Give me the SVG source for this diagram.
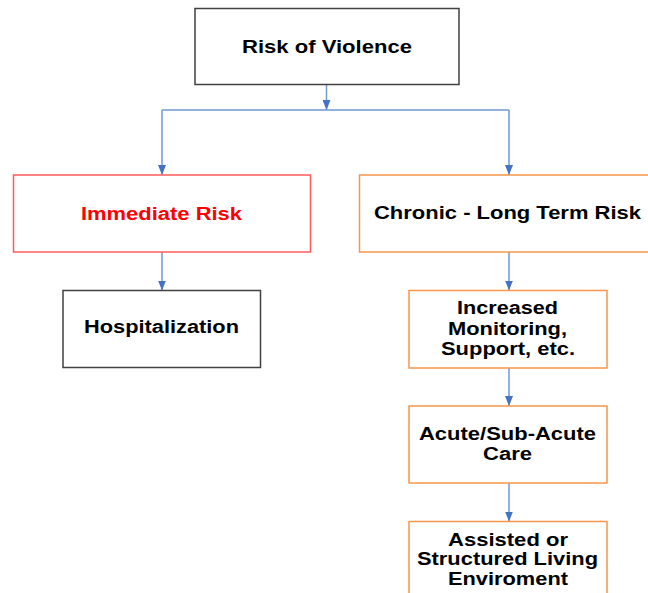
<svg xmlns="http://www.w3.org/2000/svg" width="648" height="593" viewBox="0 0 648 593">
<style>
.box{fill:#fff;stroke-width:1.5}
.k{stroke:#404040}
.r{stroke:#ff5b5b}
.o{stroke:#f7964a}
text{font-family:"Liberation Sans",Arial,sans-serif;font-weight:bold;font-size:18px;text-anchor:middle;fill:#000}
.red{fill:#ff0000}
.c{fill:none;stroke:#7199d6;stroke-width:1.5}
</style>
<defs>
<marker id="ah" markerWidth="10" markerHeight="8" refX="10" refY="4" orient="auto" markerUnits="userSpaceOnUse">
<path d="M0,0 L10,4 L0,8 Z" fill="#4472c4"/>
</marker>
</defs>
<rect width="648" height="593" fill="#fff"/>
<g id="connectors">
<path class="c" d="M326.5,84 V110" marker-end="url(#ah)"/>
<path class="c" d="M162,110 H509"/>
<path class="c" d="M162,110 V175" marker-end="url(#ah)"/>
<path class="c" d="M509,110 V175" marker-end="url(#ah)"/>
<path class="c" d="M162,252 V290.5" marker-end="url(#ah)"/>
<path class="c" d="M509,252 V290.5" marker-end="url(#ah)"/>
<path class="c" d="M509,368 V406" marker-end="url(#ah)"/>
<path class="c" d="M509,483 V521.5" marker-end="url(#ah)"/>
</g>
<g id="risk-of-violence">
<rect class="box k" x="195" y="8.5" width="264" height="76"/>
<text x="327" y="52.5" textLength="170" lengthAdjust="spacingAndGlyphs">Risk of Violence</text>
</g>
<g id="immediate-risk">
<rect class="box r" x="13.5" y="175" width="297" height="77"/>
<text class="red" x="161.5" y="219.5" textLength="161" lengthAdjust="spacingAndGlyphs">Immediate Risk</text>
</g>
<g id="chronic-risk">
<rect class="box o" x="359.5" y="175" width="290" height="77"/>
<text x="507.5" y="218.5" textLength="267" lengthAdjust="spacingAndGlyphs">Chronic - Long Term Risk</text>
</g>
<g id="hospitalization">
<rect class="box k" x="63" y="290.5" width="197.5" height="77"/>
<text x="161.5" y="332.5" textLength="155" lengthAdjust="spacingAndGlyphs">Hospitalization</text>
</g>
<g id="increased-monitoring">
<rect class="box o" x="409" y="290.5" width="198" height="77.5"/>
<text x="507.5" y="313.5" textLength="101" lengthAdjust="spacingAndGlyphs">Increased</text>
<text x="507.5" y="334.5" textLength="119" lengthAdjust="spacingAndGlyphs">Monitoring,</text>
<text x="508" y="354.5" textLength="134" lengthAdjust="spacingAndGlyphs">Support, etc.</text>
</g>
<g id="acute-care">
<rect class="box o" x="409" y="406" width="198" height="77"/>
<text x="507.5" y="439.5" textLength="177" lengthAdjust="spacingAndGlyphs">Acute/Sub-Acute</text>
<text x="507.5" y="459.5" textLength="49" lengthAdjust="spacingAndGlyphs">Care</text>
</g>
<g id="assisted-living">
<rect class="box o" x="409" y="521.5" width="198" height="80"/>
<text x="508" y="545.5" textLength="120" lengthAdjust="spacingAndGlyphs">Assisted or</text>
<text x="507.5" y="564.5" textLength="181" lengthAdjust="spacingAndGlyphs">Structured Living</text>
<text x="508" y="584.5" textLength="120" lengthAdjust="spacingAndGlyphs">Enviroment</text>
</g>
</svg>
